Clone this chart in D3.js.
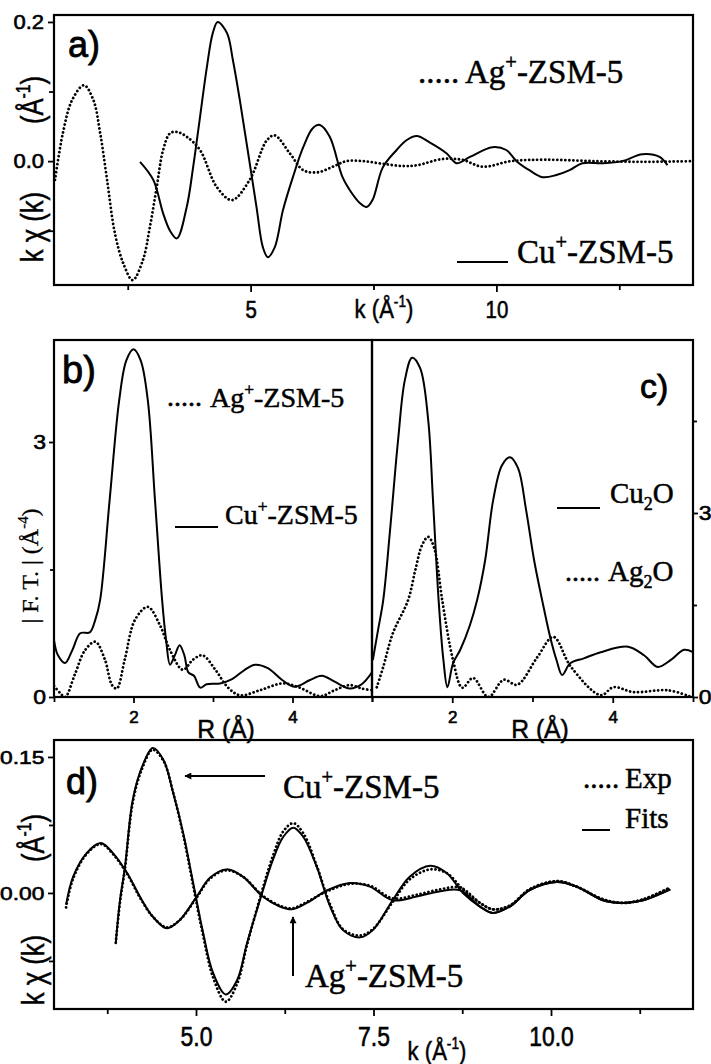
<!DOCTYPE html>
<html><head><meta charset="utf-8">
<script src="https://cdn.jsdelivr.net/npm/d3@7"></script>
<style>body{margin:0;background:#fff}</style>
</head><body>
<svg id="c" width="711" height="1064" xmlns="http://www.w3.org/2000/svg"></svg>
<script>
// ---------- DATA ----------
// Panel a: k (Å^-1) vs k·chi(k)
const aAg = [[1.02,-0.027],[1.18,0.04],[1.37,0.088],[1.61,0.109],[1.8,0.088],[1.94,0.04],[2.08,-0.027],[2.24,-0.104],[2.41,-0.147],[2.6,-0.171],[2.81,-0.142],[2.95,-0.095],[3.09,-0.037],[3.22,0.016],[3.36,0.04],[3.5,0.042],[3.7,0.035],[3.97,0.016],[4.31,-0.037],[4.62,-0.056],[4.98,-0.027],[5.33,0.03],[5.49,0.037],[5.8,0.011],[6.07,-0.013],[6.37,-0.016],[6.67,-0.008],[6.95,0.0],[7.3,0.0],[7.7,-0.004],[8.1,-0.007],[8.38,-0.006],[8.9,0.003],[9.3,0.002],[9.72,-0.008],[10.3,0.0],[11.0,0.002],[12.0,0.0],[13.0,-0.001],[14.0,0.0]];
const aCu = [[2.75,-0.001],[3.02,-0.027],[3.22,-0.075],[3.36,-0.1],[3.5,-0.111],[3.7,-0.066],[3.83,-0.009],[3.97,0.063],[4.11,0.135],[4.23,0.184],[4.33,0.2],[4.52,0.184],[4.64,0.145],[4.78,0.088],[4.94,0.016],[5.12,-0.066],[5.25,-0.124],[5.35,-0.138],[5.49,-0.124],[5.66,-0.07],[5.86,-0.023],[6.07,0.02],[6.26,0.047],[6.41,0.052],[6.61,0.035],[6.87,-0.023],[7.05,-0.045],[7.22,-0.06],[7.36,-0.066],[7.48,-0.056],[7.69,-0.009],[7.97,0.016],[8.17,0.03],[8.38,0.036],[8.64,0.027],[8.99,0.011],[9.19,-0.003],[9.46,0.006],[9.92,0.02],[10.2,0.016],[10.41,0.0],[10.67,-0.013],[10.94,-0.023],[11.22,-0.02],[11.49,-0.013],[11.75,-0.003],[12.16,-0.003],[12.56,0.0],[12.97,0.01],[13.32,0.006],[13.48,-0.006]];
const aXMajor = [5, 10], aXMinor = [2.5, 7.5, 12.5];
const aYMajor = [0.0, 0.2], aYMinor = [-0.1, 0.1];

// Panel b: R (Å) vs |F.T.|
const bCu = [[1.0,0.67],[1.05,0.49],[1.14,0.4],[1.23,0.55],[1.33,0.75],[1.45,0.76],[1.52,0.91],[1.58,1.14],[1.7,2.32],[1.82,3.49],[1.91,3.96],[2.0,4.09],[2.09,3.96],[2.18,3.49],[2.27,2.32],[2.36,1.14],[2.41,0.67],[2.46,0.38],[2.52,0.49],[2.58,0.61],[2.64,0.49],[2.69,0.29],[2.76,0.25],[2.84,0.11],[2.92,0.15],[3.09,0.16],[3.24,0.21],[3.4,0.32],[3.53,0.38],[3.69,0.34],[3.87,0.2],[4.03,0.12],[4.22,0.2],[4.37,0.25],[4.53,0.18],[4.72,0.1],[4.87,0.15],[5.0,0.29]];
const bAg = [[1.0,0.13],[1.075,0.05],[1.14,0.0],[1.26,0.26],[1.39,0.55],[1.52,0.65],[1.64,0.44],[1.73,0.14],[1.79,0.1],[1.89,0.44],[2.02,0.91],[2.18,1.06],[2.33,0.85],[2.46,0.55],[2.62,0.32],[2.75,0.44],[2.87,0.49],[3.03,0.32],[3.19,0.11],[3.34,0.02],[3.59,0.08],[3.88,0.16],[4.09,0.11],[4.35,0.01],[4.53,0.08],[4.72,0.14],[4.87,0.1],[5.0,0.08]];
const bXMajor = [2, 4], bXMinor = [1, 3, 5];
const bYMajor = [0, 3], bYMinor = [1.5];

// Panel c: R (Å) vs |F.T.| (reference oxides)
const cCu2O = [[1.01,0.6],[1.075,1.09],[1.14,1.58],[1.225,2.72],[1.325,4.19],[1.41,5.17],[1.5,5.53],[1.6,5.36],[1.7,4.52],[1.76,3.21],[1.83,1.58],[1.89,0.6],[1.94,0.16],[2.01,0.55],[2.1,0.77],[2.22,1.17],[2.31,1.58],[2.41,2.23],[2.51,3.21],[2.62,3.78],[2.72,3.91],[2.82,3.73],[2.92,3.05],[3.02,2.23],[3.12,1.58],[3.22,0.98],[3.3,0.6],[3.37,0.36],[3.47,0.55],[3.64,0.63],[3.85,0.73],[4.19,0.82],[4.39,0.68],[4.56,0.49],[4.72,0.6],[4.89,0.77],[5.0,0.73]];
const cAg2O = [[1.06,0.16],[1.14,0.49],[1.26,1.04],[1.45,1.58],[1.54,2.07],[1.625,2.48],[1.7,2.61],[1.775,2.43],[1.875,1.58],[2.01,0.6],[2.125,0.15],[2.26,0.31],[2.45,0.0],[2.64,0.28],[2.81,0.2],[3.06,0.65],[3.26,0.98],[3.48,0.49],[3.85,0.03],[4.01,0.16],[4.26,0.08],[4.69,0.11],[4.98,0.0]];
const cXMajor = [2, 4], cXMinor = [1, 3, 5];
const cYMajor = [0, 3], cYMinor = [1.5, 4.5];

// Panel d: experimental and fitted k·chi(k)
const dCuFit = [[3.87,-0.055],[3.93,-0.008],[4.0,0.029],[4.11,0.103],[4.24,0.139],[4.39,0.16],[4.54,0.147],[4.68,0.11],[4.82,0.066],[4.96,0.011],[5.1,-0.044],[5.24,-0.088],[5.42,-0.112],[5.58,-0.096],[5.72,-0.055],[5.9,-0.008],[6.08,0.036],[6.23,0.062],[6.37,0.072],[6.51,0.062],[6.7,0.029],[6.89,-0.015],[7.07,-0.041],[7.31,-0.049],[7.49,-0.041],[7.77,-0.008],[8.01,0.018],[8.3,0.03],[8.53,0.022],[8.76,0.0],[9.0,-0.015],[9.18,-0.022],[9.42,-0.015],[9.7,0.003],[10.08,0.012],[10.36,0.007],[10.73,-0.008],[11.01,-0.011],[11.3,-0.008],[11.68,0.004]];
const dCuExp = [[3.87,-0.055],[3.93,-0.01],[4.0,0.027],[4.11,0.1],[4.24,0.137],[4.39,0.158],[4.54,0.146],[4.68,0.11],[4.82,0.064],[4.96,0.008],[5.1,-0.047],[5.24,-0.093],[5.42,-0.12],[5.58,-0.1],[5.72,-0.057],[5.9,-0.006],[6.08,0.04],[6.23,0.068],[6.37,0.077],[6.51,0.066],[6.7,0.03],[6.89,-0.013],[7.07,-0.04],[7.31,-0.047],[7.49,-0.04],[7.77,-0.01],[8.01,0.015],[8.3,0.026],[8.53,0.022],[8.76,0.004],[9.0,-0.011],[9.18,-0.018],[9.42,-0.014],[9.7,0.004],[10.08,0.013],[10.36,0.007],[10.73,-0.007],[11.01,-0.011],[11.3,-0.007],[11.68,0.006]];
const dAgFit = [[3.17,-0.013],[3.27,0.018],[3.46,0.044],[3.66,0.055],[3.83,0.044],[4.03,0.022],[4.21,-0.004],[4.39,-0.026],[4.59,-0.039],[4.77,-0.03],[5.01,-0.004],[5.2,0.017],[5.43,0.026],[5.66,0.018],[5.94,-0.004],[6.18,-0.015],[6.35,-0.018],[6.56,-0.011],[6.85,0.003],[7.17,0.011],[7.45,0.007],[7.77,-0.008],[8.11,-0.004],[8.44,0.002],[8.72,0.003],[9.0,-0.015],[9.18,-0.022],[9.42,-0.015],[9.7,0.003],[10.08,0.012],[10.36,0.007],[10.73,-0.008],[11.01,-0.011],[11.3,-0.008],[11.68,0.004]];
const dAgExp = [[3.17,-0.016],[3.27,0.016],[3.46,0.043],[3.66,0.054],[3.83,0.043],[4.03,0.021],[4.21,-0.005],[4.39,-0.026],[4.59,-0.038],[4.77,-0.03],[5.01,-0.005],[5.2,0.016],[5.43,0.025],[5.66,0.018],[5.94,-0.003],[6.18,-0.014],[6.35,-0.017],[6.56,-0.01],[6.85,0.002],[7.17,0.01],[7.45,0.008],[7.77,-0.006],[8.11,-0.002],[8.44,0.004],[8.72,0.006],[9.0,-0.011],[9.18,-0.018],[9.42,-0.014],[9.7,0.004],[10.08,0.013],[10.36,0.007],[10.73,-0.007],[11.01,-0.011],[11.3,-0.007],[11.68,0.006]];
const dXMajor = [5.0, 7.5, 10.0], dXMinor = [3.75, 6.25, 8.75, 11.25];
const dYMajor = [0.0, 0.15], dYMinor = [-0.075, 0.075];

// ---------- DRAWING ----------
const svg = d3.select("#c");
const SANS = "'Liberation Sans', Arial, Helvetica, sans-serif";
const SERIF = "'Liberation Serif', 'Times New Roman', serif";
const defs = svg.append("defs");

function panel(id, x0, y0, x1, y1, xd, yd) {
  defs.append("clipPath").attr("id", id).append("rect")
    .attr("x", x0).attr("y", y0).attr("width", x1 - x0).attr("height", y1 - y0);
  return {
    id, x0, y0, x1, y1,
    x: d3.scaleLinear().domain(xd).range([x0, x1]),
    y: d3.scaleLinear().domain(yd).range([y1, y0])
  };
}
function frame(p) {
  svg.append("rect").attr("x", p.x0).attr("y", p.y0)
    .attr("width", p.x1 - p.x0).attr("height", p.y1 - p.y0)
    .attr("fill", "none").attr("stroke", "#000").attr("stroke-width", 2.2);
}
function axis(gen, tr, vals, size, fmt, opt) {
  opt = opt || {};
  const g = svg.append("g").attr("transform", tr)
    .call(gen.tickValues(vals).tickSize(size).tickPadding(3).tickFormat(fmt || (() => "")));
  g.select(".domain").remove();
  g.selectAll("line").attr("stroke", "#000").attr("stroke-width", 1.8);
  g.selectAll("text").attr("font-family", SANS).attr("fill", "#000")
    .attr("stroke", "#000").attr("stroke-width", 0.6)
    .attr("font-size", opt.size || 20);
  if (opt.y !== undefined) g.selectAll("text").attr("y", opt.y).attr("dy", null);
  if (opt.x !== undefined) g.selectAll("text").attr("x", opt.x);
  if (opt.sx) g.selectAll("text").attr("transform", `scale(${opt.sx},1)`);
  return g;
}
function curve(p, data, dotted) {
  const ln = d3.line().x(d => p.x(d[0])).y(d => p.y(d[1]))
    .curve(d3.curveCatmullRom.alpha(0.5));
  const path = svg.append("path").attr("clip-path", `url(#${p.id})`)
    .attr("d", ln(data)).attr("fill", "none").attr("stroke", "#000");
  if (dotted) path.attr("stroke-width", 2.8).attr("stroke-dasharray", "0.01 4").attr("stroke-linecap", "round");
  else path.attr("stroke-width", 2).attr("stroke-linejoin", "round");
  return path;
}
function rich(x, y, parts, size, family, opt) {
  opt = opt || {};
  let tr = `translate(${x},${y})`;
  if (opt.rot) tr += ` rotate(${opt.rot})`;
  if (opt.sx) tr += ` scale(${opt.sx},1)`;
  const t = svg.append("g").attr("transform", tr).append("text")
    .attr("font-family", family).attr("font-size", size).attr("fill", "#000")
    .attr("stroke", "#000").attr("stroke-width", opt.sw === undefined ? 0.5 : opt.sw)
    .attr("text-anchor", opt.anchor || "start");
  let shift = 0;
  parts.forEach(pt => {
    const s = typeof pt === "string" ? pt : pt[0];
    const k = typeof pt === "string" ? "n" : pt[1];
    const target = k === "sup" ? -0.42 * size : k === "sub" ? 0.24 * size : 0;
    t.append("tspan").attr("dy", target - shift)
      .attr("font-size", k === "n" ? size : 0.62 * size).text(s);
    shift = target;
  });
  return t;
}
function hline(x0, x1, y) {
  svg.append("line").attr("x1", x0).attr("x2", x1).attr("y1", y).attr("y2", y)
    .attr("stroke", "#000").attr("stroke-width", 2);
}

// ---- Panel a ----
const pa = panel("clipA", 54, 15, 693, 285, [1, 14], [-0.178, 0.21]);
curve(pa, aAg, true);
curve(pa, aCu, false);
frame(pa);
axis(d3.axisBottom(pa.x), `translate(0,${pa.y1})`, aXMajor, 7, d3.format("d"), {size: 24, y: 33, sx: 0.85});
axis(d3.axisBottom(pa.x), `translate(0,${pa.y1})`, aXMinor, 5);
axis(d3.axisLeft(pa.y), `translate(${pa.x0},0)`, aYMajor, 6, d3.format(".1f"), {size: 20, x: -9, sx: 1.1});
axis(d3.axisLeft(pa.y), `translate(${pa.x0},0)`, aYMinor, 5);
rich(68, 57, ["a)"], 36, SANS, {sw: 0.8});
rich(418, 83, ["....."], 33, SERIF);
rich(465, 83, ["Ag", ["+", "sup"], "-ZSM-5"], 33, SERIF);
hline(457, 508, 262);
rich(517, 263, ["Cu", ["+", "sup"], "-ZSM-5"], 33, SERIF);
rich(384, 318, ["k (Å", ["-1", "sup"], ")"], 26, SANS, {anchor: "middle", sx: 0.85});
rich(43, 227, ["k χ (k)"], 32, SANS, {rot: -90, anchor: "middle", sx: 0.8});
rich(43, 100, ["(Å", ["-1", "sup"], ")"], 32, SANS, {rot: -90, anchor: "middle", sx: 0.8});

// ---- Panel b ----
const pb = panel("clipB", 54, 340, 372, 697, [1, 5], [0, 4.2]);
curve(pb, bAg, true);
curve(pb, bCu, false);
frame(pb);
axis(d3.axisBottom(pb.x), `translate(0,${pb.y1})`, bXMajor, 6, d3.format("d"), {size: 17, y: 26});
axis(d3.axisBottom(pb.x), `translate(0,${pb.y1})`, bXMinor, 5);
axis(d3.axisLeft(pb.y), `translate(${pb.x0},0)`, bYMajor, 5, d3.format("d"), {size: 20, x: -7, sx: 1.15});
axis(d3.axisLeft(pb.y), `translate(${pb.x0},0)`, bYMinor, 4);
rich(62, 383, ["b)"], 38, SANS, {sw: 0.8});
rich(167, 406, ["....."], 28, SERIF);
rich(210, 407, ["Ag", ["+", "sup"], "-ZSM-5"], 28, SERIF);
hline(175, 218, 527);
rich(225, 524, ["Cu", ["+", "sup"], "-ZSM-5"], 28, SERIF);
rich(226, 738, ["R (Å)"], 26, SANS, {anchor: "middle", sx: 0.95});
rich(38, 566, ["| F. T. |  (Å", ["-4", "sup"], ")"], 24, SERIF, {rot: -90, anchor: "middle", sw: 0.3});

// ---- Panel c ----
const pc = panel("clipC", 372, 340, 693, 697, [1, 5], [0, 5.82]);
curve(pc, cAg2O, true);
curve(pc, cCu2O, false);
frame(pc);
axis(d3.axisBottom(pc.x), `translate(0,${pc.y1})`, cXMajor, 6, d3.format("d"), {size: 17, y: 26});
axis(d3.axisBottom(pc.x), `translate(0,${pc.y1})`, cXMinor, 5);
axis(d3.axisRight(pc.y), `translate(${pc.x1},0)`, cYMajor, 5, d3.format("d"), {size: 20, x: 5, sx: 1.15});
axis(d3.axisRight(pc.y), `translate(${pc.x1},0)`, cYMinor, 4);
rich(640, 398, ["c)"], 34, SANS, {sw: 0.8});
hline(557, 600, 508);
rich(610, 503, ["Cu", ["2", "sub"], "O"], 29, SERIF);
rich(565, 581, ["....."], 28, SERIF);
rich(608, 581, ["Ag", ["2", "sub"], "O"], 29, SERIF);
rich(540, 738, ["R (Å)"], 26, SANS, {anchor: "middle", sx: 0.95});

// ---- Panel d ----
const pd = panel("clipD", 54, 740, 693, 1009, [3, 12], [-0.128, 0.1687]);
curve(pd, dAgExp, true);
curve(pd, dCuExp, true);
curve(pd, dAgFit, false);
curve(pd, dCuFit, false);
frame(pd);
axis(d3.axisBottom(pd.x), `translate(0,${pd.y1})`, dXMajor, 7, d3.format(".1f"), {size: 27, y: 37, sx: 0.85});
axis(d3.axisBottom(pd.x), `translate(0,${pd.y1})`, dXMinor, 5);
axis(d3.axisLeft(pd.y), `translate(${pd.x0},0)`, dYMajor, 6, d3.format(".2f"), {size: 19, x: -8, sx: 1.2});
axis(d3.axisLeft(pd.y), `translate(${pd.x0},0)`, dYMinor, 5);
rich(66, 794, ["d)"], 36, SANS, {sw: 0.8});
rich(583, 788, ["....."], 29, SERIF);
rich(625, 788, ["Exp"], 29, SERIF);
hline(582, 610, 830);
rich(625, 828, ["Fits"], 29, SERIF);
rich(283, 798, ["Cu", ["+", "sup"], "-ZSM-5"], 33, SERIF);
rich(305, 987, ["Ag", ["+", "sup"], "-ZSM-5"], 33, SERIF);
rich(437, 1060, ["k (Å", ["-1", "sup"], ")"], 26, SANS, {anchor: "middle", sx: 0.85});
rich(44, 970, ["k χ (k)"], 32, SANS, {rot: -90, anchor: "middle", sx: 0.8});
rich(44, 838, ["(Å", ["-1", "sup"], ")"], 32, SANS, {rot: -90, anchor: "middle", sx: 0.8});

// arrows in panel d
defs.append("marker").attr("id", "ah").attr("viewBox", "0 0 10 10")
  .attr("refX", 9).attr("refY", 5).attr("markerWidth", 11).attr("markerHeight", 7)
  .attr("markerUnits", "userSpaceOnUse").attr("orient", "auto")
  .append("path").attr("d", "M0,0 L10,5 L0,10 Z").attr("fill", "#000");
svg.append("line").attr("x1", 265).attr("y1", 776).attr("x2", 185).attr("y2", 776)
  .attr("stroke", "#000").attr("stroke-width", 2).attr("marker-end", "url(#ah)");
svg.append("line").attr("x1", 293).attr("y1", 976).attr("x2", 293).attr("y2", 917)
  .attr("stroke", "#000").attr("stroke-width", 2).attr("marker-end", "url(#ah)");
</script>
</body></html>
